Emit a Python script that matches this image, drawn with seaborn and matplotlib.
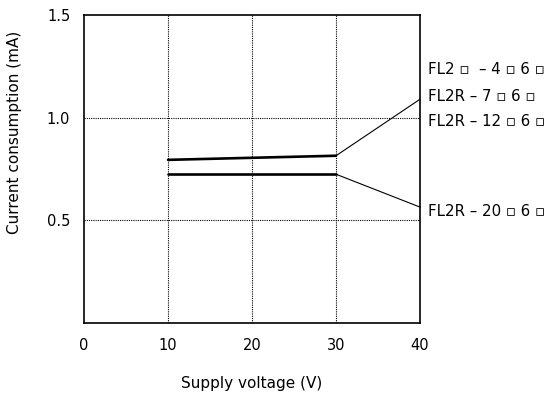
import matplotlib
matplotlib.use("Agg")
import matplotlib.pyplot as plt
import seaborn as sns
import pandas as pd

# data
voltage = [10, 20, 30]
upper_current = [0.795, 0.805, 0.815]   # FL2...-4/7/12 models
lower_current = [0.725, 0.725, 0.725]   # FL2R-20 model
leader_end_x = [30, 40]
upper_leader_y = [0.815, 1.09]
lower_leader_y = [0.725, 0.565]
label_texts = ["FL2 \u25ab  \u2013 4 \u25ab 6 \u25ab", "FL2R \u2013 7 \u25ab 6 \u25ab",
               "FL2R \u2013 12 \u25ab 6 \u25ab", "FL2R \u2013 20 \u25ab 6 \u25ab"]
label_y = [1.235, 1.105, 0.98, 0.545]
x_ticks = [0, 10, 20, 30, 40]
y_ticks = [0.5, 1.0, 1.5]

sns.set_style("white")
plt.rcParams['font.family'] = ['DejaVu Sans']
plt.rcParams['text.color'] = 'black'
plt.rcParams['axes.labelcolor'] = 'black'
plt.rcParams['xtick.color'] = 'black'
plt.rcParams['ytick.color'] = 'black'

fig = plt.figure(figsize=(5.57, 3.96), dpi=100)
ax = fig.add_axes([0.151, 0.184, 0.603, 0.778])

df = pd.DataFrame({'V': voltage, 'up': upper_current, 'low': lower_current})
sns.lineplot(data=df, x='V', y='up', color='black', linewidth=1.9, ax=ax)
sns.lineplot(data=df, x='V', y='low', color='black', linewidth=1.9, ax=ax)
ax.plot(leader_end_x, upper_leader_y, color='black', linewidth=0.8, clip_on=False)
ax.plot(leader_end_x, lower_leader_y, color='black', linewidth=0.8, clip_on=False)

for t, y in zip(label_texts, label_y):
    ax.text(41.0, y, t, fontsize=10.8, va='center', ha='left', clip_on=False)

ax.set_xlim(0, 40)
ax.set_ylim(0, 1.5)
ax.set_xticks(x_ticks)
ax.set_yticks(y_ticks)
ax.set_xticklabels([str(v) for v in x_ticks], fontsize=10.5)
ax.set_yticklabels(['0.5', '1.0', '1.5'], fontsize=10.5)
ax.tick_params(axis='x', length=0, pad=11)
ax.tick_params(axis='y', length=0, pad=10)

# dotted grid at inner positions
for xv in [10, 20, 30]:
    ax.axvline(xv, color='black', linestyle=(0, (1, 1)), linewidth=0.8, zorder=0)
for yv in [0.5, 1.0]:
    ax.axhline(yv, color='black', linestyle=(0, (1, 1)), linewidth=0.8, zorder=0)

for s in ax.spines.values():
    s.set_color('black')
    s.set_linewidth(1.2)

ax.set_xlabel('Supply voltage (V)', fontsize=11, va='center')
ax.set_ylabel('Current consumption (mA)', fontsize=11, va='center')
ax.xaxis.set_label_coords(0.5, -0.195)
ax.yaxis.set_label_coords(-0.208, 0.62)

fig.savefig('out.png', dpi=100)
